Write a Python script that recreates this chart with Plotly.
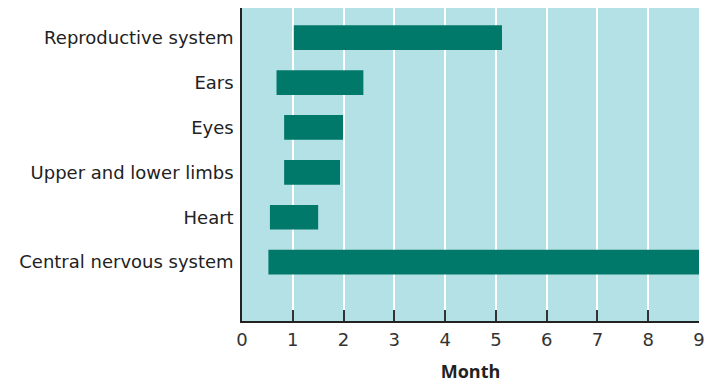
import plotly.graph_objects as go

categories = ["Central nervous system", "Heart", "Upper and lower limbs", "Eyes", "Ears", "Reproductive system"]
start_month = [0.52, 0.55, 0.83, 0.83, 0.68, 1.02]
end_month = [9.0, 1.5, 1.93, 1.99, 2.39, 5.12]
tick_vals = [0, 1, 2, 3, 4, 5, 6, 7, 8, 9]

positions = list(range(len(categories)))
durations = [e - s for s, e in zip(start_month, end_month)]

fig = go.Figure(go.Bar(
    y=positions, x=durations, base=start_month, orientation="h",
    width=0.55, marker=dict(color="#00786a", line=dict(width=0)),
    hoverinfo="skip",
))

font_family = "'DejaVu Sans', sans-serif"
fig.update_layout(
    width=715, height=378,
    margin=dict(l=234, r=24, t=0, b=65),
    paper_bgcolor="white", plot_bgcolor="#b4e1e5",
    showlegend=False,
    font=dict(family=font_family, size=18, color="#222"),
    xaxis=dict(
        range=[0, 9], tickvals=tick_vals, ticks="inside", ticklen=11,
        tickcolor="#333", tickwidth=1.5,
        showgrid=True, gridcolor="white", gridwidth=1.5,
        zeroline=False, showline=True, linecolor="#222", linewidth=1.5,
        ticklabelstandoff=2,
        tickfont=dict(size=18, color="#333"),
        title=dict(text="<b>Month</b>", font=dict(family="'Open Sans', sans-serif", size=18, color="#222"), standoff=16),
    ),
    yaxis=dict(
        range=[-1.31, 5.66], tickvals=positions, ticktext=categories,
        showgrid=False, zeroline=False, showline=True, linecolor="#222", linewidth=1.5,
        ticks="", ticklabelstandoff=3,
        tickfont=dict(size=18, color="#222"),
    ),
)

fig.write_html("out.html")
